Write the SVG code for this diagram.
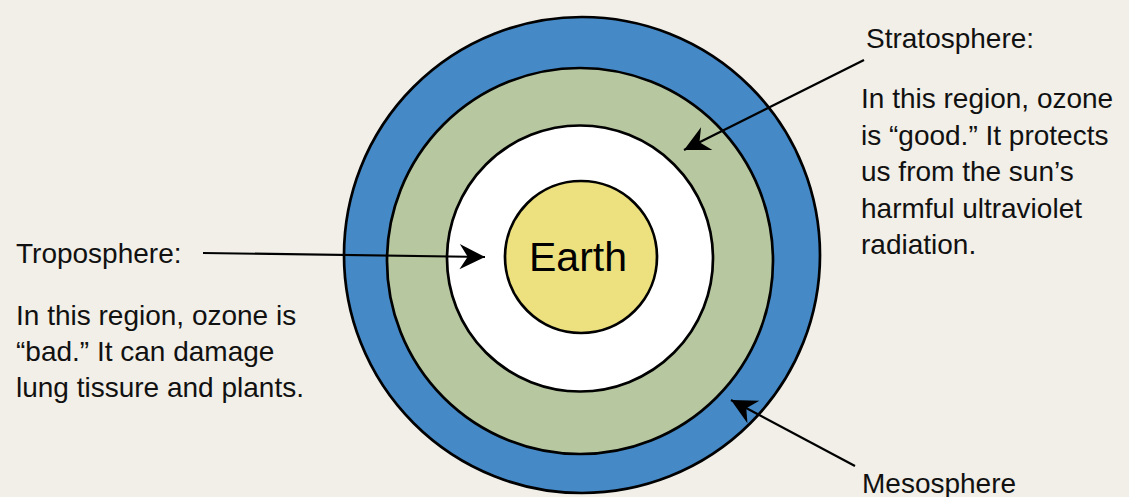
<svg xmlns="http://www.w3.org/2000/svg" width="1129" height="497" viewBox="0 0 1129 497">
<style>
.ring{stroke:#000;stroke-width:2.7}
.lbl{font-family:"Liberation Sans",Arial,sans-serif;font-size:28px;fill:#111}
.conn{stroke:#000;stroke-width:2.2;fill:none;marker-end:url(#ah)}
</style>
<defs>
<marker id="ah" markerUnits="userSpaceOnUse" markerWidth="30" markerHeight="30" viewBox="-24 -12 26 24" refX="0" refY="0" orient="auto">
<path d="M0,0 L-22,-11 L-15,0 L-22,11 Z" fill="#000"/>
</marker>
</defs>
<rect width="1129" height="497" fill="#f1efe8"/>
<g id="mesosphere-ring"><circle class="ring" cx="582" cy="255" r="238" fill="#4589c6"/></g>
<g id="stratosphere-ring"><circle class="ring" cx="580" cy="261" r="193" fill="#b7c79f"/></g>
<g id="troposphere-ring"><circle class="ring" cx="580" cy="258.5" r="133" fill="#ffffff"/></g>
<g id="earth"><circle class="ring" cx="581" cy="257" r="76" fill="#ede07f"/>
<text x="578" y="271" text-anchor="middle" style="font-family:'Liberation Sans',Arial,sans-serif;font-size:41px;fill:#000">Earth</text></g>
<g id="connectors">
<line class="conn" x1="203" y1="253" x2="485" y2="257"/>
<line class="conn" x1="864" y1="60" x2="684" y2="150"/>
<line class="conn" x1="855" y1="466" x2="731" y2="400"/>
</g>
<g id="troposphere-label">
<text class="lbl" x="16" y="263">Troposphere:</text>
<text class="lbl" x="16" y="325">In this region, ozone is</text>
<text class="lbl" x="16" y="361">“bad.” It can damage</text>
<text class="lbl" x="16" y="397">lung tissure and plants.</text>
</g>
<g id="stratosphere-label">
<text class="lbl" x="866" y="48">Stratosphere:</text>
<text class="lbl" x="861" y="108">In this region, ozone</text>
<text class="lbl" x="861" y="145">is “good.” It protects</text>
<text class="lbl" x="861" y="181">us from the sun’s</text>
<text class="lbl" x="861" y="218">harmful ultraviolet</text>
<text class="lbl" x="861" y="254">radiation.</text>
</g>
<g id="mesosphere-label">
<text class="lbl" x="862" y="493">Mesosphere</text>
</g>
</svg>
